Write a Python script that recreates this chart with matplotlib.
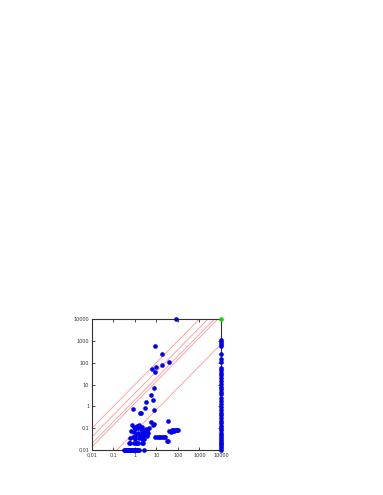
import numpy as np
import matplotlib
matplotlib.use("Agg")
import matplotlib.pyplot as plt
from matplotlib.ticker import FixedLocator, NullLocator

# ===============================================
# DATA
# ===============================================
# upper scattered points
upper_x = [81, 8.4, 17.8, 37, 18.5, 9.3, 6.3, 8.4, 7.6, 5.8, 7.0, 3.3,
           0.8, 1.7, 2.0, 3.0, 7.7]
upper_y = [10000, 590, 263, 102, 80, 66, 54, 36, 6.7, 3.2, 1.9, 1.55,
           0.72, 0.48, 0.48, 0.83, 0.65]

# dense cluster near x = 1
cluster_x = [0.74, 0.86, 1.02, 1.22, 1.46, 1.62, 1.87, 2.16, 2.5, 2.87, 3.3, 3.8,
             4.7, 5.6, 6.7, 7.8, 2.08, 1.46, 1.22, 1.74, 2.3, 2.97, 1.02, 0.86,
             0.64, 0.6, 0.8, 1.02, 1.62, 2.08, 2.67, 0.6, 1.46, 2.08, 3.55, 4.2,
             0.95, 1.1, 1.3, 0.55, 2.4]
cluster_y = [0.14, 0.11, 0.092, 0.123, 0.099, 0.14, 0.092, 0.11, 0.077, 0.065, 0.092, 0.077,
             0.099, 0.19, 0.147, 0.15, 0.065, 0.06, 0.054, 0.049, 0.046, 0.054, 0.046, 0.07,
             0.077, 0.034, 0.038, 0.032, 0.034, 0.032, 0.032, 0.022, 0.02, 0.022, 0.046, 0.06,
             0.02, 0.02, 0.02, 0.02, 0.02]

# right-hand groups
right_x = [35, 40, 45, 52, 55, 60, 65, 70, 80, 90, 100,
           8.5, 10.5, 12.5, 15, 18, 22, 25, 30, 36]
right_y = [0.22, 0.075, 0.07, 0.083, 0.072, 0.08, 0.075, 0.083, 0.08, 0.083, 0.08,
           0.04, 0.04, 0.04, 0.04, 0.04, 0.04, 0.04, 0.027, 0.027]

bottom_row_x = [0.32, 0.35, 0.38, 0.42, 0.46, 0.5, 0.55, 0.6, 0.66, 0.72, 0.8,
                0.9, 1.0, 1.1, 1.25, 1.4, 1.6, 2.75]
bottom_row_y = [0.01] * len(bottom_row_x)

right_col_y = [1100, 900, 750, 600, 260, 150, 110, 60, 45, 35, 28, 20, 15, 11, 8, 6,
               4.5, 3.5, 2.5, 1.8, 1.3, 0.9, 0.7, 0.5, 0.4, 0.3, 0.22, 0.17, 0.13, 0.1,
               0.08, 0.06, 0.05, 0.04, 0.033, 0.027, 0.022, 0.018, 0.015, 0.012, 0.01]
right_col_x = [10000] * len(right_col_y)

green_x = [10000]
green_y = [10000]

ratio_lines = [10, 4, 2, 1.4, 0.07]
tick_vals = [0.01, 0.1, 1, 10, 100, 1000, 10000]
tick_labels = ["0.01", "0.1", "1", "10", "100", "1000", "10000"]

# ===============================================
# FIGURE
# ===============================================
fig = plt.figure(figsize=(3.83, 4.95), dpi=100)
ax = fig.add_axes([0.240, 0.0909, 0.337, 0.2646])
ax.set_xscale("log")
ax.set_yscale("log")
ax.set_xlim(0.01, 10000)
ax.set_ylim(0.01, 10000)

# ratio lines
xs = np.logspace(-2, 4, 50)
for k in ratio_lines:
    ax.plot(xs, xs * k, color="#ff9898", lw=0.6, zorder=1)

ms = 11
blue = "#0000ee"
for px, py in [(upper_x, upper_y), (cluster_x, cluster_y), (right_x, right_y),
               (bottom_row_x, bottom_row_y), (right_col_x, right_col_y)]:
    ax.scatter(px, py, s=ms, color=blue, lw=0, zorder=3, clip_on=False)
ax.scatter(green_x, green_y, s=ms, color="#00dd00", lw=0, zorder=4, clip_on=False)

for a in (ax.xaxis, ax.yaxis):
    a.set_major_locator(FixedLocator(tick_vals))
    a.set_minor_locator(NullLocator())
ax.set_xticklabels(tick_labels)
ax.set_yticklabels(tick_labels)
ax.tick_params(direction="in", length=2.5, width=0.5, labelsize=3.5, pad=2,
               top=True, right=True, labelcolor="#333333")

for s in ax.spines.values():
    s.set_linewidth(0.8)
    s.set_color("#333333")

plt.savefig("out.png", dpi=100)
